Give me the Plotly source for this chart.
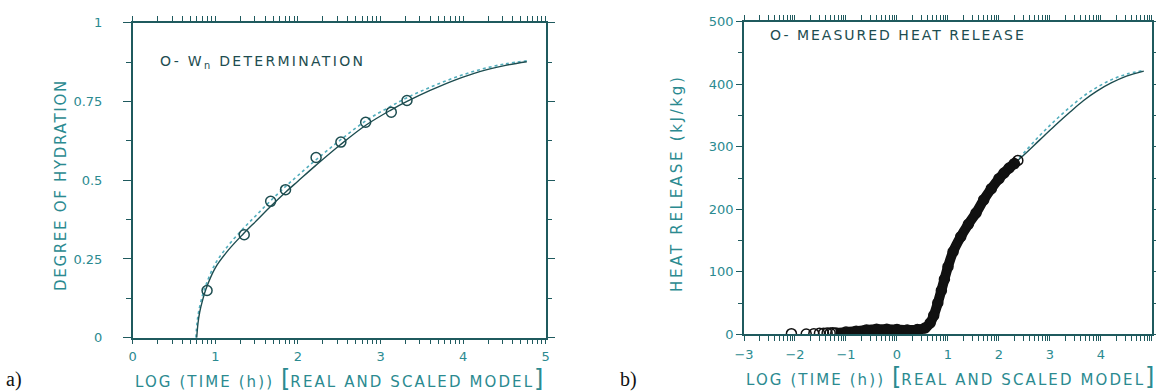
import numpy as np
import plotly.graph_objects as go

# ---------------- data: panel a (degree of hydration) ----------------
a_meas_x = [0.90, 1.35, 1.67, 1.85, 2.22, 2.52, 2.82, 3.13, 3.32]
a_meas_y = [0.150, 0.327, 0.433, 0.470, 0.572, 0.621, 0.684, 0.716, 0.753]

a_real_x = [0.775, 0.79, 0.81, 0.847, 0.887, 1.0, 1.157, 1.34, 1.5, 1.674, 1.85, 2.0,
            2.22, 2.51, 2.83, 3.12, 3.32, 3.6, 3.9, 4.2, 4.5, 4.77]
a_real_y = [0.0, 0.045, 0.08, 0.12, 0.155, 0.222, 0.278, 0.330, 0.372, 0.418, 0.462, 0.497,
            0.548, 0.612, 0.676, 0.722, 0.750, 0.785, 0.818, 0.845, 0.864, 0.876]

a_scaled_x = [0.765, 0.78, 0.80, 0.84, 0.887, 1.0, 1.157, 1.34, 1.5, 1.674, 1.85, 2.0,
              2.22, 2.51, 2.83, 3.12, 3.32, 3.6, 3.9, 4.2, 4.5, 4.77]
a_scaled_y = [0.0, 0.05, 0.085, 0.13, 0.168, 0.235, 0.293, 0.347, 0.390, 0.436, 0.480, 0.515,
              0.565, 0.627, 0.690, 0.734, 0.762, 0.795, 0.826, 0.851, 0.869, 0.879]

# ---------------- data: panel b (heat release) ----------------
b_meas_x = [-2.07, -1.78, -1.63, -1.52, -1.44, -1.37, -1.31, -1.26,
            -1.2, -1.0, -0.8, -0.6, -0.4, -0.2, 0.0, 0.2, 0.4, 0.55, 0.65, 0.72, 0.8,
            0.87, 0.93, 1.0, 1.1, 1.25, 1.4, 1.55, 1.7, 1.85, 2.0, 2.1, 2.2, 2.3, 2.37]
b_meas_y = [1.0, 0.5, 1.0, 1.5, 1.5, 2.0, 2.0, 2.5,
            2.0, 3.5, 5.0, 7.0, 8.0, 8.0, 7.5, 7.0, 7.5, 10.0, 18.0, 30.0, 50.0,
            70.0, 88.0, 108.0, 132.0, 156.0, 176.0, 194.0, 215.0, 233.0, 249.0, 258.0, 266.0, 273.0, 278.0]
b_dense_start = 8  # index where measurements become a continuous band

b_real_x = [0.55, 0.7, 0.8, 0.9, 1.0, 1.25, 1.5, 1.75, 2.0, 2.2, 2.45, 2.8, 3.1, 3.4,
            3.66, 3.92, 4.2, 4.5, 4.84]
b_real_y = [10, 25, 50, 82, 110, 156, 190, 222, 249, 266, 284, 311, 334, 356,
            374, 389, 402, 413, 421]
b_scaled_x = [0.55, 0.7, 0.8, 0.9, 1.0, 1.25, 1.5, 1.75, 2.0, 2.2, 2.45, 2.8, 3.1, 3.4,
              3.66, 3.92, 4.2, 4.5, 4.84]
b_scaled_y = [10, 25, 50, 82, 110, 156, 190, 222, 249, 267, 287, 318, 342, 364,
              381, 395, 407, 416, 422]

a_yticks = [0, 0.25, 0.5, 0.75, 1]
a_yticklabels = ["0", "0.25", "0.5", "0.75", "1"]
a_xticks = [0, 1, 2, 3, 4, 5]
b_xticks = [-3, -2, -1, 0, 1, 2, 3, 4, 5]
b_xticklabels = ["\u22123", "\u22122", "\u22121", "0", "1", "2", "3", "4", "5"]
b_yticks = [0, 100, 200, 300, 400, 500]

# ---------------- styling ----------------
AX = "#1f5a5e"
TXT = "#2b8a90"
LINE = "#1d4d50"
DOT = "#52aebd"
FONT = "DejaVu Sans"


def log_axis_ticks(decades, labels):
    """integer decade ticks (labelled) plus per-decade log ticks (unlabelled)"""
    vals, text = [], []
    for i, n in enumerate(decades):
        vals.append(n)
        text.append(labels[i])
        if i < len(decades) - 1:
            for k in range(2, 10):
                vals.append(n + np.log10(k))
                text.append("")
    return vals, text


def spaced(s, px):
    return "<span style='letter-spacing:%spx'>%s</span>" % (px, s)


fig = go.Figure()

# panel a
fig.add_trace(go.Scatter(x=a_scaled_x, y=a_scaled_y, mode="lines",
                         line=dict(color=DOT, width=1.6, dash="dot", shape="spline"),
                         xaxis="x", yaxis="y", showlegend=False))
fig.add_trace(go.Scatter(x=a_real_x, y=a_real_y, mode="lines",
                         line=dict(color=LINE, width=1.4, shape="spline"),
                         xaxis="x", yaxis="y", showlegend=False))
fig.add_trace(go.Scatter(x=a_meas_x, y=a_meas_y, mode="markers",
                         marker=dict(symbol="circle-open", size=10, color=LINE,
                                     line=dict(width=1.5, color=LINE)),
                         xaxis="x", yaxis="y", showlegend=False))

# panel b
fig.add_trace(go.Scatter(x=b_scaled_x, y=b_scaled_y, mode="lines",
                         line=dict(color=DOT, width=1.6, dash="dot", shape="spline"),
                         xaxis="x2", yaxis="y2", showlegend=False))
fig.add_trace(go.Scatter(x=b_real_x, y=b_real_y, mode="lines",
                         line=dict(color=LINE, width=1.4, shape="spline"),
                         xaxis="x2", yaxis="y2", showlegend=False))
fig.add_trace(go.Scatter(x=b_meas_x[b_dense_start:], y=b_meas_y[b_dense_start:], mode="lines",
                         line=dict(color="#111111", width=10, shape="spline"),
                         xaxis="x2", yaxis="y2", showlegend=False))
fig.add_trace(go.Scatter(x=b_meas_x, y=b_meas_y, mode="markers",
                         marker=dict(symbol="circle-open", size=10, color="#111111",
                                     line=dict(width=1.5, color="#111111")),
                         xaxis="x2", yaxis="y2", showlegend=False))

tickfont = dict(family=FONT, size=13, color=TXT)

common = dict(showline=True, linecolor=AX, linewidth=1.5, mirror="ticks",
              ticks="outside", tickcolor=AX, tickwidth=1.2, automargin=False,
              showgrid=False, zeroline=False, tickfont=tickfont, tickmode="array")

ax_vals, ax_text = log_axis_ticks(a_xticks, [str(v) for v in a_xticks])
bx_vals, bx_text = log_axis_ticks(b_xticks, b_xticklabels)

fig.update_layout(
    width=1156, height=392,
    margin=dict(l=0, r=0, t=0, b=0),
    paper_bgcolor="white", plot_bgcolor="white",
    xaxis=dict(domain=[0.1148, 0.4721], anchor="y", range=[0, 5],
               tickvals=ax_vals, ticktext=ax_text, ticklen=5, ticklabelstandoff=1, **common),
    yaxis=dict(domain=[0.1385, 0.942], anchor="x", range=[0, 1],
               tickvals=a_yticks, ticktext=a_yticklabels, ticklen=8,
               minor=dict(dtick=0.125, tick0=0, ticklen=5, tickcolor=AX, tickwidth=1.1,
                          ticks="outside"),
               ticklabelstandoff=18, **common),
    xaxis2=dict(domain=[0.6436, 0.9965], anchor="y2", range=[-3, 5],
                tickvals=bx_vals, ticktext=bx_text, ticklen=5, ticklabelstandoff=2, **common),
    yaxis2=dict(domain=[0.1472, 0.9446], anchor="x2", range=[0, 500],
                tickvals=b_yticks, ticklen=6,
                minor=dict(dtick=50, tick0=0, ticklen=4, tickcolor=AX, tickwidth=1.1,
                           ticks="outside"),
                ticklabelstandoff=0, **common),
)

ann = []
# in-plot labels
ann.append(dict(text=spaced("O- W<sub>n</sub> DETERMINATION", 2.3), x=158 / 1156, y=1 - 61.7 / 392,
                xref="paper", yref="paper", xanchor="left", yanchor="middle",
                showarrow=False, font=dict(family=FONT, size=14, color=LINE)))
ann.append(dict(text=spaced("O- MEASURED HEAT RELEASE", 2.0), x=768 / 1156, y=1 - 35 / 392,
                xref="paper", yref="paper", xanchor="left", yanchor="middle",
                showarrow=False, font=dict(family=FONT, size=14, color=LINE)))
# axis titles
xt = (spaced("LOG (TIME (h)) ", 2.1) + "<span style='font-size:24px'>[</span>"
      + spaced("REAL AND SCALED MODEL", 2.1) + "<span style='font-size:24px'>]</span>")
ann.append(dict(text=xt, x=339 / 1156, y=1 - 379 / 392, xref="paper", yref="paper",
                xanchor="center", yanchor="middle", showarrow=False,
                font=dict(family=FONT, size=15, color=TXT)))
ann.append(dict(text=xt, x=950 / 1156, y=1 - 377 / 392, xref="paper", yref="paper",
                xanchor="center", yanchor="middle", showarrow=False,
                font=dict(family=FONT, size=15, color=TXT)))
ann.append(dict(text=spaced("DEGREE OF HYDRATION", 1.7), x=61 / 1156, y=1 - 185 / 392,
                xref="paper", yref="paper", xanchor="center", yanchor="middle",
                textangle=-90, showarrow=False, font=dict(family=FONT, size=15, color=TXT)))
ann.append(dict(text=spaced("HEAT RELEASE (kJ/kg)", 2.7), x=677 / 1156, y=1 - 183 / 392,
                xref="paper", yref="paper", xanchor="center", yanchor="middle",
                textangle=-90, showarrow=False, font=dict(family=FONT, size=15, color=TXT)))
# panel labels
ann.append(dict(text="a)", x=4 / 1156, y=1 - 379 / 392, xref="paper", yref="paper",
                xanchor="left", yanchor="middle", showarrow=False,
                font=dict(family="Liberation Serif", size=20, color="#111111")))
ann.append(dict(text="b)", x=618 / 1156, y=1 - 379 / 392, xref="paper", yref="paper",
                xanchor="left", yanchor="middle", showarrow=False,
                font=dict(family="Liberation Serif", size=20, color="#111111")))
fig.update_layout(annotations=ann)

# remove the page's default body margin so the figure fills the window exactly
fig.write_html("out.html", config={"displayModeBar": False},
               post_script="document.body.style.margin='0px';")
